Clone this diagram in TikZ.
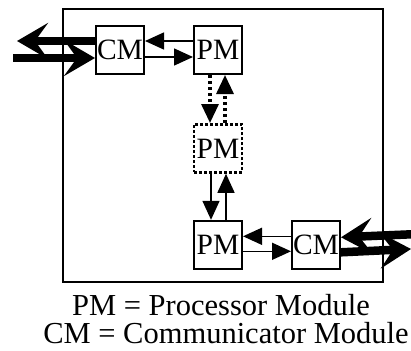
\documentclass[tikz,border=0pt]{standalone}
\usepackage{fontspec}
\setmainfont{Liberation Serif}
\usepackage{tikz}
\usetikzlibrary{arrows.meta,positioning}

\begin{document}
\begin{tikzpicture}[x=1pt, y=-1pt,
  font=\fontsize{29.5}{30}\selectfont,
  module/.style={draw, line width=2pt, minimum width=48pt, minimum height=48pt, inner sep=0pt},
  spare/.style={module, line width=2.8pt, dash pattern=on 3pt off 2pt},
  arr/.style={-{Triangle[length=19pt, width=17pt]}, line width=1.5pt},
  darr/.style={arr, line width=3.2pt, dash pattern=on 3pt off 3pt},
  link/.style={-{Stealth[length=31pt, width=36pt, inset=13pt]}, line width=8.5pt},
  keytext/.style={font=\fontsize{30.5}{28}\selectfont, anchor=base, inner sep=0pt}]
\useasboundingbox (0,0) rectangle (411,350);
% board
\node[draw, line width=2pt, minimum width=320pt, minimum height=273pt] (board) at (223,145.5) {};
% modules
\node[module] (cmA) at (120,50) {CM};
\node[module, right=48pt of cmA] (pmA) {PM};
\node[spare, below=48pt of pmA] (pmB) {PM};
\node[module, below=46pt of pmB] (pmC) {PM};
\node[module, right=48pt of pmC] (cmB) {CM};
% outside links
\coordinate (inA) at (13,58);
\coordinate (outA) at (17,41);
\coordinate (inB) at (418,234);
\coordinate (outB) at (411,249);

\draw[arr] ([yshift=9pt]pmA.west) -- ([yshift=9pt]cmA.east);
\draw[arr] ([yshift=-7pt]cmA.east) -- ([yshift=-7pt]pmA.west);
\draw[darr] ([xshift=-8pt]pmA.south) -- ([xshift=-8pt]pmB.north);
\draw[darr] ([xshift=7pt]pmB.north) -- ([xshift=7pt]pmA.south);
\draw[arr] ([xshift=-7pt]pmB.south) -- ([xshift=-7pt]pmC.north);
\draw[arr] ([xshift=8pt]pmC.north) -- ([xshift=8pt]pmB.south);
\draw[arr] ([yshift=8.5pt]cmB.west) -- ([yshift=8.5pt]pmC.east);
\draw[arr] ([yshift=-6.5pt]pmC.east) -- ([yshift=-6.5pt]cmB.west);
\draw[link] ([yshift=9pt]cmA.west) -- (outA);
\draw[link] (inA) -- ([yshift=-8pt]cmA.west);
\draw[link] (inB) -- ([yshift=7.5pt]cmB.east);
\draw[link] ([yshift=-7.5pt]cmB.east) -- (outB);
% key
\node[keytext] (keyPM) at (221,315) {PM = Processor Module};
\node[keytext] (keyCM) at (226,343) {CM = Communicator Module};
\end{tikzpicture}
\end{document}
